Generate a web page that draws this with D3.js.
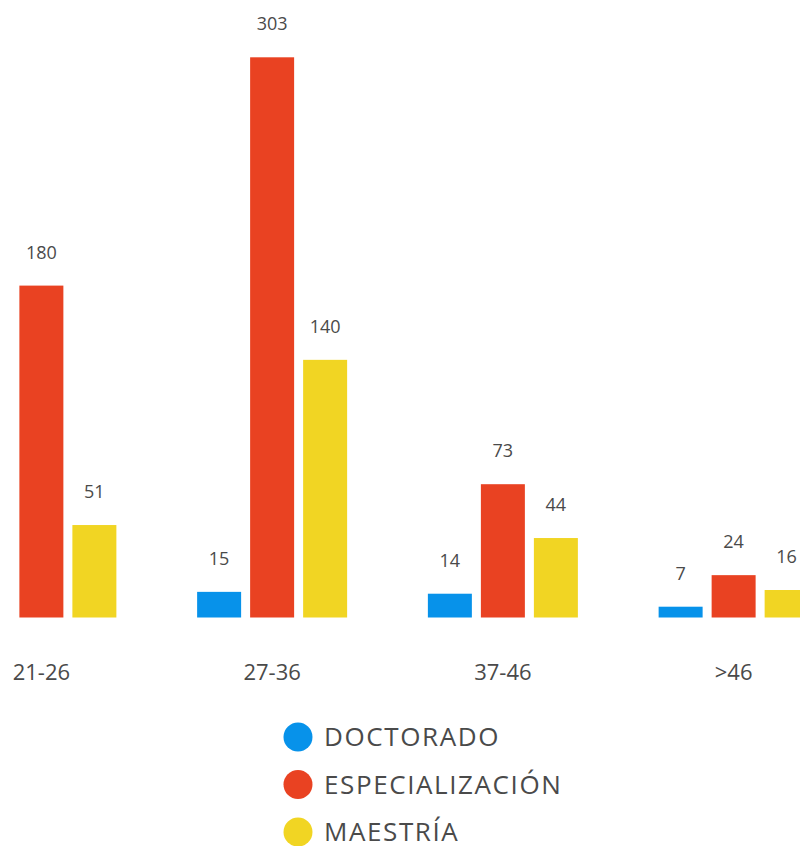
<!DOCTYPE html>
<html>
<head>
<meta charset="utf-8">
<script src="https://cdnjs.cloudflare.com/ajax/libs/d3/7.8.5/d3.min.js"></script>
<style>
  html, body { margin: 0; padding: 0; background: #fff; }
  svg { display: block; font-family: "Open Sans", "Noto Sans", sans-serif; }
  .val { fill: #4a4a4a; font-size: 18px; }
  .tick { fill: #4a4a4a; font-size: 22px; }
  .leg { fill: #4a4a4a; font-size: 26px; letter-spacing: 1.6px; }
</style>
</head>
<body>
<svg id="chart" width="800" height="846"></svg>
<script>
// Age groups and counts per degree
const groups = ['21-26', '27-36', '37-46', '>46'];
const series = ['DOCTORADO', 'ESPECIALIZACIÓN', 'MAESTRÍA'];
const doctorado = [null, 15, 14, 7];
const especializacion = [180, 303, 73, 24];
const maestria = [51, 140, 44, 16];
const colors = ['#0792ea', '#e94222', '#f1d523'];

const values = [doctorado, especializacion, maestria];

const svg = d3.select('#chart');

// outer band: group centres sit under the middle bar
const x0 = d3.scaleBand().domain(groups).range([-74, 849]).padding(0);
const x1 = d3.scaleBand().domain(series).range([-75, 75]).paddingInner(0.17).paddingOuter(0);
const y = d3.scaleLinear().domain([0, 303]).range([619.7, 57.3]);
// bars stop a little above the scale's zero, as in the original
const baseY = y(0) - 2.2;

const g = svg.append('g');

groups.forEach((grp, gi) => {
  const cx = x0(grp) + x0.bandwidth() / 2;
  series.forEach((s, si) => {
    const v = values[si][gi];
    if (v == null) return;
    const bx = cx + x1(s);
    g.append('rect')
      .attr('x', bx)
      .attr('y', y(v))
      .attr('width', x1.bandwidth())
      .attr('height', baseY - y(v))
      .attr('fill', colors[si]);
    g.append('text').classed('val', true)
      .attr('x', bx + x1.bandwidth() / 2)
      .attr('y', y(v) - 27)
      .attr('text-anchor', 'middle')
      .text(v);
  });
  g.append('text').classed('tick', true)
    .attr('x', cx)
    .attr('y', 680)
    .attr('text-anchor', 'middle')
    .text(grp);
});

// legend
const leg = svg.append('g').attr('transform', 'translate(298,737)');
series.forEach((s, i) => {
  const row = leg.append('g').attr('transform', `translate(0,${i * 47.5})`);
  row.append('circle').attr('r', 14.5).attr('fill', colors[i]);
  row.append('text').classed('leg', true)
    .attr('x', 26)
    .attr('y', 0)
    .attr('dy', '0.36em')
    .text(s);
});
</script>
</body>
</html>
